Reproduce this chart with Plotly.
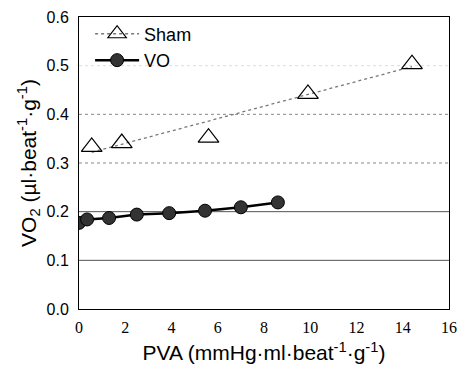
import plotly.graph_objects as go

sham_x = [0.55, 1.85, 5.6, 9.9, 14.4]
sham_y = [0.333, 0.341, 0.352, 0.442, 0.503]
sham_fit_x = [0.55, 14.4]
sham_fit_y = [0.322, 0.498]

vo_x = [0.0, 0.35, 1.3, 2.5, 3.9, 5.45, 7.0, 8.6]
vo_y = [0.177, 0.184, 0.187, 0.194, 0.197, 0.202, 0.209, 0.219]

x_ticks = [0, 2, 4, 6, 8, 10, 12, 14, 16]
y_ticks = [0.0, 0.1, 0.2, 0.3, 0.4, 0.5, 0.6]
y_labels = ["0.0", "0.1", "0.2", "0.3", "0.4", "0.5", "0.6"]

sham_line = dict(color="#777", width=1.3, dash="dot")
sham_marker = dict(symbol="triangle-up-open", size=18, color="black", line=dict(width=1.2))

fig = go.Figure()
fig.add_trace(go.Scatter(x=sham_fit_x, y=sham_fit_y, mode="lines", line=sham_line,
                         showlegend=False, hoverinfo="skip"))
fig.add_trace(go.Scatter(x=sham_x, y=sham_y, mode="markers", marker=sham_marker,
                         showlegend=False))
# legend entry for Sham (line + marker sample)
fig.add_trace(go.Scatter(x=[None], y=[None], mode="lines+markers", name="Sham",
                         line=sham_line, marker=sham_marker))
fig.add_trace(go.Scatter(x=vo_x, y=vo_y, mode="lines+markers", name="VO",
                         line=dict(color="black", width=2.5),
                         marker=dict(symbol="circle", size=13, color="#333",
                                     line=dict(color="black", width=1))))

grid_styles = {0.1: ("#555", "solid", 1), 0.2: ("#555", "solid", 1),
               0.3: ("#888", "dot", 1), 0.4: ("#888", "dot", 1),
               0.5: ("#ddd", "dot", 1)}
for yv, (c, d, w) in grid_styles.items():
    fig.add_shape(type="line", xref="paper", x0=0, x1=1, yref="y", y0=yv, y1=yv,
                  line=dict(color=c, dash=d, width=w), layer="below")

fig.update_layout(
    width=465, height=369,
    margin=dict(l=79, r=8, t=17, b=60),
    paper_bgcolor="white", plot_bgcolor="white",
    font=dict(family="Liberation Sans, Arial, sans-serif", color="black"),
    legend=dict(x=0.03, y=1.005, xanchor="left", yanchor="top",
                bgcolor="rgba(0,0,0,0)", font=dict(size=18), tracegroupgap=0,
                itemwidth=44),
    xaxis=dict(range=[0, 16], tickvals=x_ticks, showgrid=False, zeroline=False,
               showline=True, linecolor="black", linewidth=1, mirror=True,
               tickfont=dict(family="Liberation Serif, Times New Roman, serif", size=16),
               ticklabelstandoff=4,
               title=dict(text="PVA (mmHg·ml·beat<sup>-1</sup>·g<sup>-1</sup>)",
                          font=dict(size=21), standoff=10)),
    yaxis=dict(range=[0, 0.6], tickvals=y_ticks, ticktext=y_labels, showgrid=False,
               zeroline=False, showline=True, linecolor="black", linewidth=1, mirror=True,
               tickfont=dict(size=16), ticks="", ticklabelstandoff=6,
               title=dict(text="VO<sub>2</sub> (µl·beat<sup>-1</sup>·g<sup>-1</sup>)",
                          font=dict(size=21), standoff=4)),
)
fig.write_html("out.html")
